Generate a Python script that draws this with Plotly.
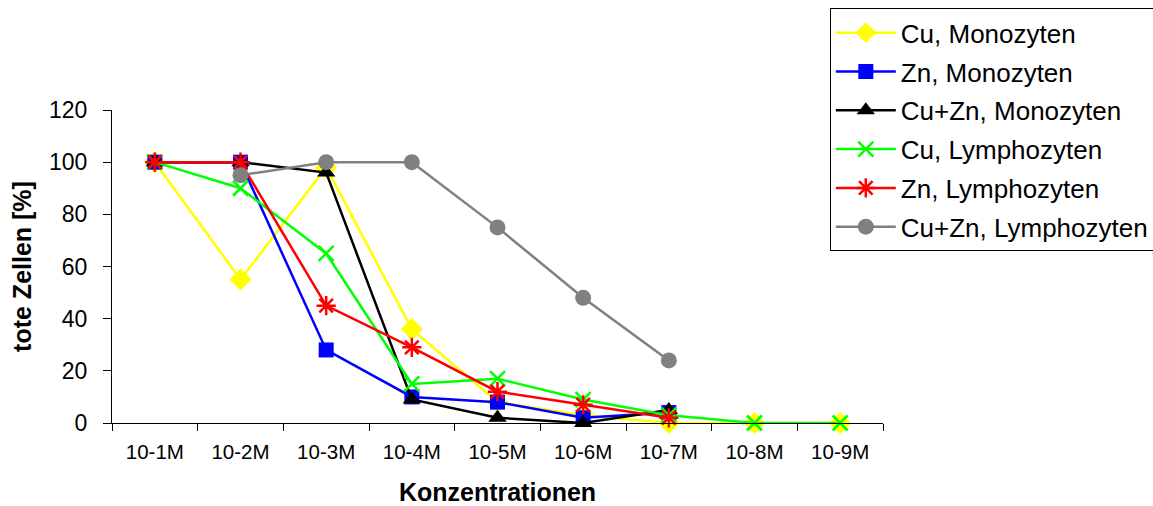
import plotly.graph_objects as go

# Concentration steps (x categories)
konzentrationen = ["10-1M", "10-2M", "10-3M", "10-4M", "10-5M",
                   "10-6M", "10-7M", "10-8M", "10-9M"]

# Dead cells in percent per series (None = not measured)
cu_mono = [100, 55, 98, 36, 8, 3, 0, 0, 0]
zn_mono = [100, 100, 28, 10, 8, 2, 4, None, None]
cuzn_mono = [100, 100, 96, 9, 2, 0, 5, None, None]
cu_lympho = [100, 90, 65, 15, 17, 9, 3, 0, 0]
zn_lympho = [100, 100, 45, 29, 12, 7, 2, None, None]
cuzn_lympho = [None, 95, 100, 100, 75, 48, 24, None, None]

series = [
    ("Cu, Monozyten", cu_mono, "#FFFF00", dict(symbol="diamond", size=17)),
    ("Zn, Monozyten", zn_mono, "#0000FF", dict(symbol="square", size=15)),
    ("Cu+Zn, Monozyten", cuzn_mono, "#000000", dict(symbol="triangle-up", size=16)),
    ("Cu, Lymphozyten", cu_lympho, "#00FF00",
     dict(symbol="x-thin-open", size=15, line=dict(width=2.5, color="#00FF00"))),
    ("Zn, Lymphozyten", zn_lympho, "#FF0000",
     dict(symbol="asterisk-open", size=16, line=dict(width=2.5, color="#FF0000"))),
    ("Cu+Zn, Lymphozyten", cuzn_lympho, "#808080", dict(symbol="circle", size=16)),
]

fig = go.Figure()
for i, (name, values, color, marker) in enumerate(series):
    fig.add_trace(go.Scatter(
        x=konzentrationen, y=values, name=name, mode="lines+markers",
        line=dict(color=color, width=2.5),
        marker=dict(color=color, **marker),
        connectgaps=False, cliponaxis=False, legendgroup=f"g{i}",
    ))

font_family = "Arial, Liberation Sans, sans-serif"

fig.update_layout(
    width=1153, height=506,
    margin=dict(l=112, r=270, t=110, b=83, autoexpand=False),
    paper_bgcolor="white", plot_bgcolor="white",
    font=dict(family=font_family, size=20, color="black"),
    showlegend=True,
    legend=dict(
        x=0.931, y=1.325, xanchor="left", yanchor="top",
        bordercolor="#000000", borderwidth=1,
        font=dict(size=26, family=font_family),
        tracegroupgap=2, itemwidth=60,
    ),
    xaxis=dict(
        type="category", range=[-0.5, 8.5],
        showline=True, linecolor="black", linewidth=1,
        ticks="outside", ticklen=7, tickcolor="black", tickson="boundaries",
        showgrid=False, zeroline=False,
        tickfont=dict(size=20.5), ticklabelstandoff=10,
        title=dict(text="<b>Konzentrationen</b>", font=dict(size=25), standoff=22),
    ),
    yaxis=dict(
        range=[0, 120], dtick=20,
        showline=True, linecolor="black", linewidth=1,
        ticks="outside", ticklen=8, tickcolor="black",
        showgrid=False, zeroline=False,
        tickfont=dict(size=23), ticklabelstandoff=11,
        title=dict(text="<b>tote Zellen [%]</b>", font=dict(size=25), standoff=10),
    ),
)

fig.write_html("out.html")
